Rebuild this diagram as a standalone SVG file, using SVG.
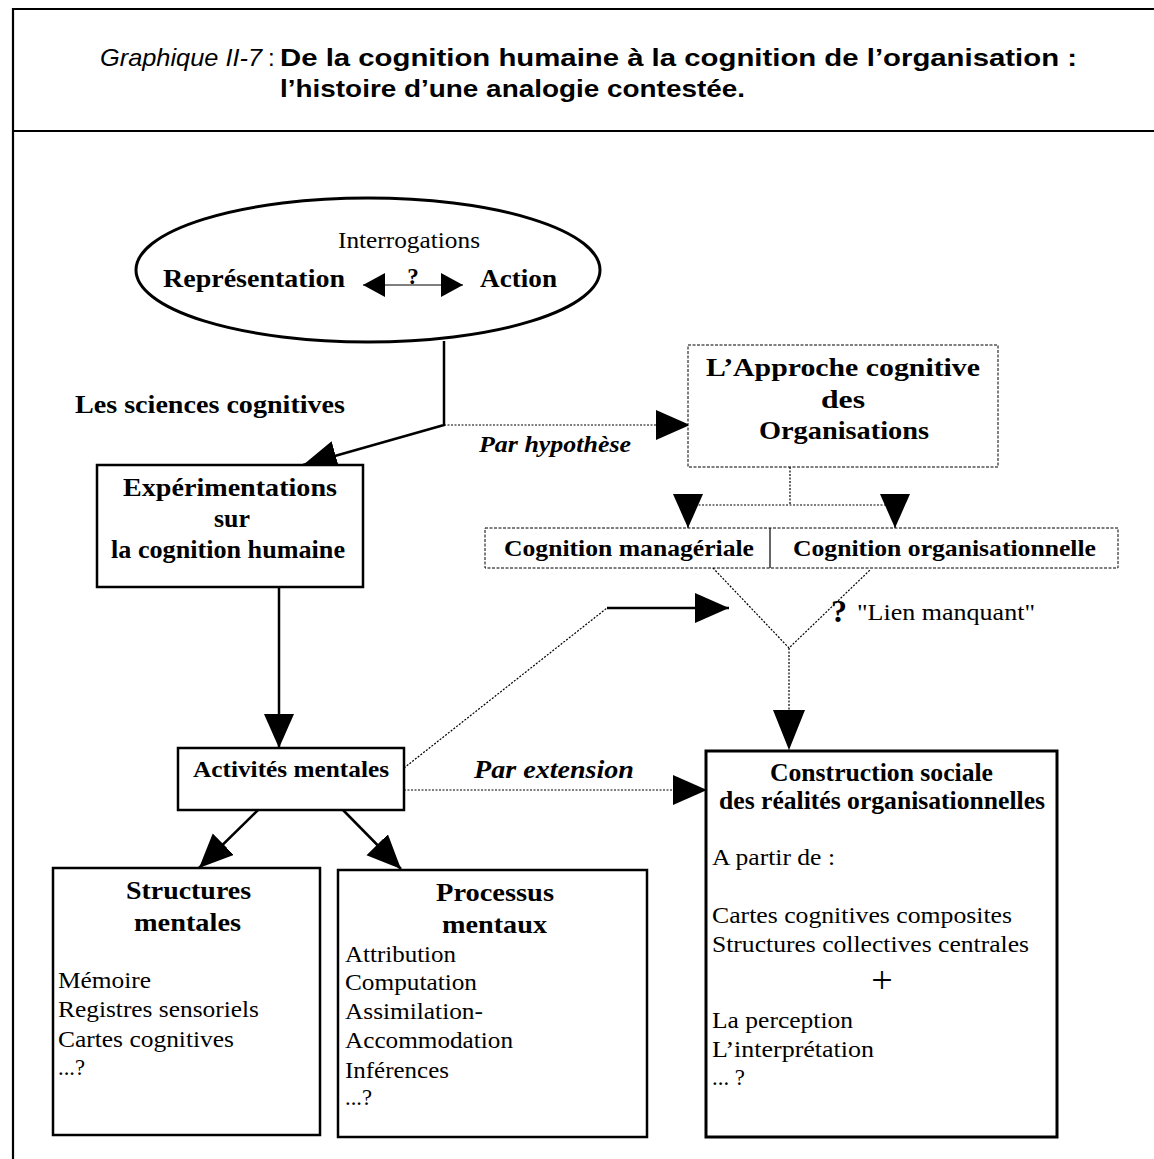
<svg xmlns="http://www.w3.org/2000/svg" width="1154" height="1159" viewBox="0 0 1154 1159">
  <style>
    .t  { font-family: "Liberation Sans", Arial, sans-serif; font-size: 24px; fill: #000; }
    .r  { font-family: "Liberation Serif", "Times New Roman", serif; font-size: 23px; fill: #000; }
    .b  { font-family: "Liberation Serif", "Times New Roman", serif; font-weight: bold; font-size: 26px; fill: #000; }
    .bi { font-family: "Liberation Serif", "Times New Roman", serif; font-weight: bold; font-style: italic; font-size: 25px; fill: #000; }
    .box  { fill: #fff; stroke: #000; stroke-width: 2.5; }
    .dbox { fill: #fff; stroke: #000; stroke-width: 1; stroke-dasharray: 3 1.5; }
    .solid { fill: none; stroke: #000; stroke-width: 2.5; }
    .thin  { fill: none; stroke: #000; stroke-width: 1.2; }
    .dot   { fill: none; stroke: #000; stroke-width: 1.2; stroke-dasharray: 2 1.5; }
    .frame { fill: none; stroke: #000; stroke-width: 2.2; }
  </style>
  <defs>
    <marker id="ah" markerUnits="userSpaceOnUse" markerWidth="36" markerHeight="32" refX="34" refY="15" orient="auto">
      <path d="M0,0 L34,15 L0,30 z" fill="#000" stroke="none"/>
    </marker>
    <marker id="ahl" markerUnits="userSpaceOnUse" markerWidth="42" markerHeight="34" refX="40" refY="16" orient="auto">
      <path d="M0,0 L40,16 L0,32 z" fill="#000" stroke="none"/>
    </marker>
    <marker id="as" markerUnits="userSpaceOnUse" markerWidth="24" markerHeight="26" refX="22" refY="12" orient="auto-start-reverse">
      <path d="M0,0 L22,12 L0,24 z" fill="#000" stroke="none"/>
    </marker>
  </defs>

  <rect width="1154" height="1159" fill="#fff"/>

  <!-- page frame and title band -->
  <g id="frame">
    <path class="frame" d="M13,9 H1154 M13,8 V1159 M13,131 H1154"/>
    <text class="t" x="100" y="66" style="font-style:italic" textLength="162" lengthAdjust="spacingAndGlyphs">Graphique II-7</text>
    <text class="t" x="268" y="66">:</text>
    <text class="t" x="280" y="66" style="font-weight:bold" textLength="797" lengthAdjust="spacingAndGlyphs">De la cognition humaine à la cognition de l’organisation :</text>
    <text class="t" x="280" y="97" style="font-weight:bold" textLength="465" lengthAdjust="spacingAndGlyphs">l’histoire d’une analogie contestée.</text>
  </g>

  <!-- connectors -->
  <g id="connectors">
    <path class="solid" d="M444,341 V425 L303,465" marker-end="url(#ah)"/>
    <path class="dot" d="M444,425 H690" marker-end="url(#ah)"/>
    <path class="dot" d="M790,467 V505 M688,505 H895"/>
    <path class="thin" d="M688,505 V528" marker-end="url(#ah)"/>
    <path class="thin" d="M895,505 V528" marker-end="url(#ah)"/>
    <path class="dot" d="M713,568 L789,648 L870,570"/>
    <path class="dot" d="M789,648 V750" marker-end="url(#ahl)"/>
    <path class="dot" d="M404,768 L607,608"/>
    <path class="solid" d="M607,608 H729" marker-end="url(#ah)"/>
    <path class="dot" d="M404,790 H707" marker-end="url(#ah)"/>
    <path class="solid" d="M279,587 V748" marker-end="url(#ah)"/>
    <path class="solid" d="M258,810 L199,868" marker-end="url(#ah)"/>
    <path class="solid" d="M343,810 L401,869" marker-end="url(#ah)"/>
    <text class="b" x="831" y="622" style="font-size:32px" textLength="16" lengthAdjust="spacingAndGlyphs">?</text>
    <text class="r" x="857" y="620" textLength="178" lengthAdjust="spacingAndGlyphs">"Lien manquant"</text>
    <text class="bi" x="479" y="452" style="font-size:24px" textLength="152" lengthAdjust="spacingAndGlyphs">Par hypothèse</text>
    <text class="bi" x="474" y="778" textLength="160" lengthAdjust="spacingAndGlyphs">Par extension</text>
    <text class="b" x="75" y="413" style="font-size:25px" textLength="270" lengthAdjust="spacingAndGlyphs">Les sciences cognitives</text>
  </g>

  <!-- Représentation / Action -->
  <g id="interrogations">
    <ellipse cx="368" cy="270" rx="232" ry="72" fill="#fff" stroke="#000" stroke-width="3"/>
    <text class="r" x="338" y="248" textLength="142" lengthAdjust="spacingAndGlyphs">Interrogations</text>
    <text class="b" x="163" y="287" style="font-size:25px" textLength="182" lengthAdjust="spacingAndGlyphs">Représentation</text>
    <text class="b" x="480" y="287" style="font-size:25px" textLength="77" lengthAdjust="spacingAndGlyphs">Action</text>
    <path class="thin" d="M363,285 H463" stroke-width="2" marker-start="url(#as)" marker-end="url(#as)"/>
    <text class="b" x="413" y="284" style="font-size:23px" text-anchor="middle">?</text>
  </g>

  <g id="experimentations">
    <rect class="box" x="97" y="465" width="266" height="122"/>
    <text class="b" x="123" y="496" textLength="214" lengthAdjust="spacingAndGlyphs">Expérimentations</text>
    <text class="b" x="232" y="527" text-anchor="middle" textLength="36" lengthAdjust="spacingAndGlyphs">sur</text>
    <text class="b" x="111" y="558" textLength="234" lengthAdjust="spacingAndGlyphs">la cognition humaine</text>
  </g>

  <g id="approche">
    <rect class="dbox" x="688" y="345" width="310" height="122"/>
    <text class="b" x="706" y="376" textLength="274" lengthAdjust="spacingAndGlyphs">L’Approche  cognitive</text>
    <text class="b" x="843" y="408" text-anchor="middle" textLength="44" lengthAdjust="spacingAndGlyphs">des</text>
    <text class="b" x="759" y="439" textLength="170" lengthAdjust="spacingAndGlyphs">Organisations</text>
  </g>

  <g id="cognition">
    <rect class="dbox" x="485" y="528" width="633" height="40"/>
    <path class="thin" d="M770,528 V568"/>
    <text class="b" x="504" y="556" style="font-size:24px" textLength="250" lengthAdjust="spacingAndGlyphs">Cognition managériale</text>
    <text class="b" x="793" y="556" style="font-size:24px" textLength="303" lengthAdjust="spacingAndGlyphs">Cognition organisationnelle</text>
  </g>

  <g id="activites">
    <rect class="box" x="178" y="748" width="226" height="62"/>
    <text class="b" x="193" y="777" style="font-size:23px" textLength="196" lengthAdjust="spacingAndGlyphs">Activités mentales</text>
  </g>

  <g id="structures">
    <rect class="box" x="53" y="868" width="267" height="267"/>
    <text class="b" x="126" y="899" textLength="125" lengthAdjust="spacingAndGlyphs">Structures</text>
    <text class="b" x="134" y="931" textLength="107" lengthAdjust="spacingAndGlyphs">mentales</text>
    <text class="r" x="58" y="988" textLength="93" lengthAdjust="spacingAndGlyphs">Mémoire</text>
    <text class="r" x="58" y="1017" textLength="201" lengthAdjust="spacingAndGlyphs">Registres sensoriels</text>
    <text class="r" x="58" y="1047" textLength="176" lengthAdjust="spacingAndGlyphs">Cartes cognitives</text>
    <text class="r" x="58" y="1075" textLength="27" lengthAdjust="spacingAndGlyphs">...?</text>
  </g>

  <g id="processus">
    <rect class="box" x="338" y="870" width="309" height="267"/>
    <text class="b" x="436" y="901" textLength="118" lengthAdjust="spacingAndGlyphs">Processus</text>
    <text class="b" x="442" y="933" textLength="105" lengthAdjust="spacingAndGlyphs">mentaux</text>
    <text class="r" x="345" y="962" textLength="111" lengthAdjust="spacingAndGlyphs">Attribution</text>
    <text class="r" x="345" y="990" textLength="132" lengthAdjust="spacingAndGlyphs">Computation</text>
    <text class="r" x="345" y="1019" textLength="138" lengthAdjust="spacingAndGlyphs">Assimilation-</text>
    <text class="r" x="345" y="1048" textLength="168" lengthAdjust="spacingAndGlyphs">Accommodation</text>
    <text class="r" x="345" y="1078" textLength="104" lengthAdjust="spacingAndGlyphs">Inférences</text>
    <text class="r" x="345" y="1105" textLength="27" lengthAdjust="spacingAndGlyphs">...?</text>
  </g>

  <g id="construction">
    <rect class="box" x="706" y="751" width="351" height="386" style="stroke-width:3"/>
    <text class="b" x="770" y="781" style="font-size:25px" textLength="223" lengthAdjust="spacingAndGlyphs">Construction sociale</text>
    <text class="b" x="719" y="809" style="font-size:25px" textLength="326" lengthAdjust="spacingAndGlyphs">des réalités organisationnelles</text>
    <text class="r" x="712" y="865" textLength="123" lengthAdjust="spacingAndGlyphs">A partir de :</text>
    <text class="r" x="712" y="923" textLength="300" lengthAdjust="spacingAndGlyphs">Cartes cognitives composites</text>
    <text class="r" x="712" y="952" textLength="317" lengthAdjust="spacingAndGlyphs">Structures collectives centrales</text>
    <text class="r" x="882" y="993" style="font-size:38px" text-anchor="middle">+</text>
    <text class="r" x="712" y="1028" textLength="141" lengthAdjust="spacingAndGlyphs">La perception</text>
    <text class="r" x="712" y="1057" textLength="162" lengthAdjust="spacingAndGlyphs">L’interprétation</text>
    <text class="r" x="712" y="1085" textLength="33" lengthAdjust="spacingAndGlyphs">... ?</text>
  </g>
</svg>
